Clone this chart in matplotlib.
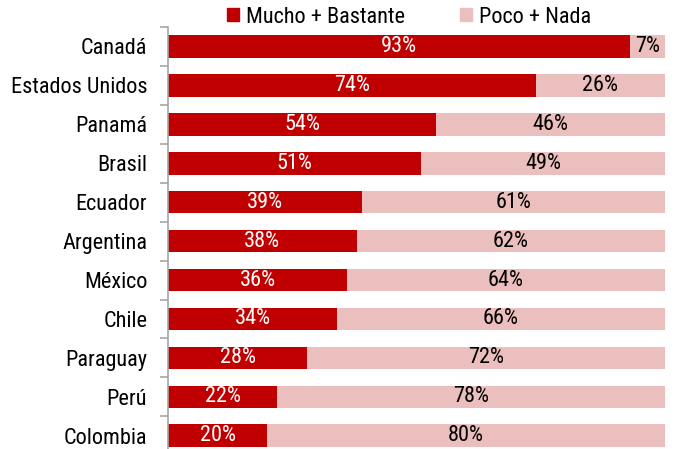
import matplotlib
matplotlib.use("Agg")
import matplotlib.pyplot as plt
import numpy as np
from matplotlib.patches import Patch

categories = ["Canadá", "Estados Unidos", "Panamá", "Brasil", "Ecuador", "Argentina",
              "México", "Chile", "Paraguay", "Perú", "Colombia"]
mucho = [93, 74, 54, 51, 39, 38, 36, 34, 28, 22, 20]
poco = [7, 26, 46, 49, 61, 62, 64, 66, 72, 78, 80]
series_names = ["Mucho + Bastante", "Poco + Nada"]

RED = "#C00000"
PINK = "#EBBFBD"
FONT = ["Roboto Condensed", "DejaVu Sans"]
plt.rcParams['font.family'] = FONT
plt.rcParams['font.weight'] = 'normal'

fig = plt.figure(figsize=(6.77, 4.49), dpi=100)
ax = fig.add_axes([168/677, 0, (665-168)/677, 1-27/449])

y = np.arange(len(categories))
ax.barh(y, mucho, height=0.58, color=RED, label=series_names[0])
ax.barh(y, poco, left=mucho, height=0.58, color=PINK, label=series_names[1])

FS = 16
for i, (m, p) in enumerate(zip(mucho, poco)):
    ax.text(m/2, i, f"{m}%", ha="center", va="center", color="white", fontsize=FS)
    ax.text(m + p/2, i, f"{p}%", ha="center", va="center", color="black", fontsize=FS)

ax.set_xlim(0, 100)
ax.set_ylim(10.34, -0.5)
ax.set_yticks(y)
ax.set_yticklabels(categories, fontsize=FS)
ax.tick_params(axis="y", which="major", length=0, pad=15)
ax.set_yticks(np.arange(-0.5, 10.5, 1), minor=True)
ax.tick_params(axis="y", which="minor", length=6, color="#A6A6A6", width=1.2)
ax.set_xticks([])
for s in ["top", "right", "bottom"]:
    ax.spines[s].set_visible(False)
ax.spines["left"].set_color("#A6A6A6")
ax.spines["left"].set_linewidth(1.2)

handles = [Patch(color=RED), Patch(color=PINK)]
fig.legend(handles, series_names, loc="upper center", bbox_to_anchor=(409/677, 1.03),
           ncol=2, frameon=False, fontsize=FS, handlelength=0.55, handleheight=0.55,
           handletextpad=0.3, columnspacing=2.5)

fig.savefig("out.png", dpi=100)
